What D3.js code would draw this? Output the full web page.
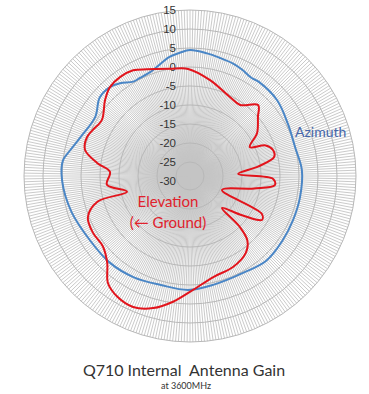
<!DOCTYPE html>
<html>
<head>
<meta charset="utf-8">
<script src="https://cdn.jsdelivr.net/npm/d3@7"></script>
<style>
  html, body { margin: 0; padding: 0; background: #fff; }
  svg { display: block; }
</style>
</head>
<body>
<svg id="chart" width="369" height="394"></svg>
<script>
// Gain ticks (dB) printed up the vertical axis
const tickValues = [15, 10, 5, 0, -5, -10, -15, -20, -25, -30];
const ringValues = [15, 10, 5, 0, -5, -10, -15, -20, -25];

// Azimuth pattern: bearing (deg, clockwise from top) and gain (dB)
const azAngles = [0, 8, 14, 21, 26, 32, 36, 49, 62, 75, 87, 101, 113, 125, 138, 151, 168, 181, 195, 209, 223, 237, 253, 268, 277, 282, 290, 302, 311, 318, 323, 329, 333, 339, 343, 350, 355];
const azGain   = [4.5, 3.9, 3.4, 3.0, 2.5, 1.8, 2.0, 1.7, 0.5, 0, 0.8, 0.8, 0.8, 1.0, 1.3, 0.4, 0.6, 1.3, 1.0, 1.8, 2.4, 2.6, 3.9, 5.0, 5.0, 3.6, 1.8, 0.7, 2.8, 2.8, 1.9, 0.3, 0.3, 0.6, 1.3, 3.1, 3.8];

// Elevation pattern: angle (deg) and gain (dB)
const elAngles = [359, 11.8, 26.8, 35.2, 43.8, 49, 57.3, 64.2, 68, 72.6, 77.3, 82, 87.6, 92, 96, 101, 113.6, 117.8, 121.4, 127, 135, 135.6, 138.3, 144, 154.7, 167, 178.5, 187.7, 195.6, 203.5, 211, 217.5, 223.6, 231, 239.6, 248, 254.5, 256, 264, 273, 278, 284, 290.7, 295.4, 302.5, 311.8, 318, 324.7, 331.7, 338, 349.4];
const elGain   = [-0.5, -2.9, -5.4, -5.8, -2.8, -5, -7.7, -11.2, -7.2, -5.8, -6, -10.5, -16, -6.8, -6.2, -11.5, -19.5, -7.3, -6.5, -11.5, -16.8, -10, -6, -3.7, -2.2, -1.4, 1.3, 4.7, 7.4, 8.9, 8.4, 6.8, 2.9, 0.8, 0.9, 0.3, -3.4, -11.6, -6.7, -7.6, -4, -0.2, 0.3, -0.4, -1.2, 1.3, 2.8, 3.2, 2.9, 1.6, 0];

const svg = d3.select("#chart");
const cx = 190, cy = 176;

// Radial gain scale (dB -> px)
const r = d3.scaleLinear().domain([-30, 15]).range([-5, 166]);
const R = r(15);

const g = svg.append("g").attr("transform", `translate(${cx},${cy})`);

// Spokes every degree
const spokes = d3.range(0, 360, 1);
g.append("g").selectAll("line").data(spokes).join("line")
  .attr("x1", 0).attr("y1", 0)
  .attr("x2", d => R * Math.sin(d * Math.PI / 180))
  .attr("y2", d => -R * Math.cos(d * Math.PI / 180))
  .attr("stroke", "#c4c4c4")
  .attr("stroke-width", 0.9);

// Gain rings
g.append("g").selectAll("circle").data(ringValues).join("circle")
  .attr("r", d => r(d))
  .attr("fill", "none")
  .attr("stroke", "#b8b8b8")
  .attr("stroke-width", 1);

// Axis labels
g.append("g").selectAll("text").data(tickValues).join("text")
  .attr("x", -14)
  .attr("y", d => -r(d) + 4)
  .attr("text-anchor", "end")
  .attr("font-family", "Liberation Sans, Arial, sans-serif")
  .attr("font-size", 11.5)
  .attr("fill", "#333")
  .text(d => d);

const toPts = (angles, gains) => angles.map((a, i) => ({ a, v: gains[i] }));

const radial = d3.lineRadial()
  .angle(d => d.a * Math.PI / 180)
  .radius(d => r(d.v))
  .curve(d3.curveCatmullRomClosed.alpha(0.5));

// Azimuth trace
g.append("path")
  .datum(toPts(azAngles, azGain))
  .attr("d", radial)
  .attr("fill", "none")
  .attr("stroke", "#4a86c6")
  .attr("stroke-width", 2);

// Elevation trace
g.append("path")
  .datum(toPts(elAngles, elGain))
  .attr("d", radial)
  .attr("fill", "none")
  .attr("stroke", "#e2141c")
  .attr("stroke-width", 2)
  .attr("stroke-linejoin", "round");

// Trace labels
svg.append("text")
  .attr("x", 295).attr("y", 137)
  .attr("font-family", "Lato, 'Open Sans', sans-serif")
  .attr("font-size", 14)
  .attr("fill", "#4466aa")
  .text("Azimuth");

svg.append("text")
  .attr("x", 168).attr("y", 207)
  .attr("text-anchor", "middle")
  .attr("font-family", "Lato, 'Open Sans', sans-serif")
  .attr("font-size", 15)
  .attr("fill", "#e0222c")
  .text("Elevation");

svg.append("text")
  .attr("x", 168).attr("y", 228)
  .attr("text-anchor", "middle")
  .attr("font-family", "Lato, 'Open Sans', sans-serif")
  .attr("font-size", 15)
  .attr("fill", "#e0222c")
  .text("(\u2190 Ground)");

// Title
svg.append("text")
  .attr("x", 184).attr("y", 376)
  .attr("text-anchor", "middle")
  .attr("font-family", "Lato, 'Open Sans', sans-serif")
  .attr("font-size", 16)
  .attr("fill", "#333")
  .attr("xml:space", "preserve")
  .style("white-space", "pre")
  .text("Q710 Internal  Antenna Gain");

svg.append("text")
  .attr("x", 186).attr("y", 389)
  .attr("text-anchor", "middle")
  .attr("font-family", "Lato, 'Open Sans', sans-serif")
  .attr("font-size", 9)
  .attr("fill", "#333")
  .text("at 3600MHz");
</script>
</body>
</html>
